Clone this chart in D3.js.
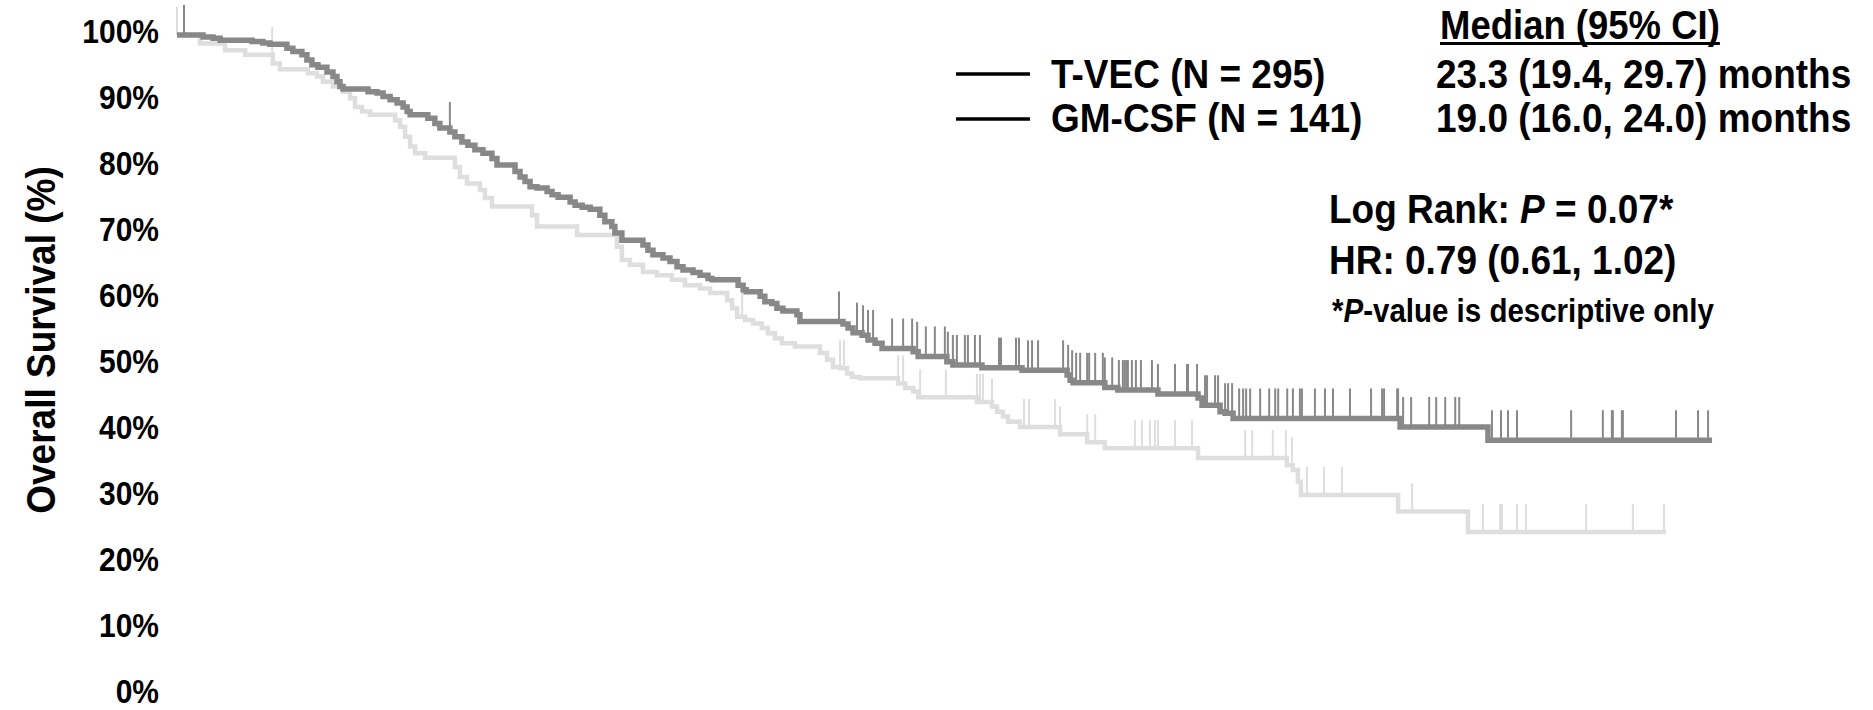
<!DOCTYPE html>
<html>
<head>
<meta charset="utf-8">
<script src="https://cdn.jsdelivr.net/npm/d3@7/dist/d3.min.js"></script>
<style>
  html, body { margin: 0; padding: 0; background: #fff; }
  svg { display: block; }
  text { font-family: "Liberation Sans", Arial, Helvetica, sans-serif; font-weight: bold; fill: #000; }
</style>
</head>
<body>
<svg id="chart" width="1873" height="710"></svg>
<script>
// ---------- DATA ----------
// Kaplan-Meier steps: [month, survival %] (survival drops to value at that month)
const tvecSteps = [[0,100],[0.78,99.7],[1.08,99.5],[1.29,99.2],[2.25,99.0],[2.57,98.8],[2.78,98.6],[3.29,98.0],[3.47,97.5],[3.74,97.0],[3.89,96.2],[4.04,95.5],[4.22,95.1],[4.49,94.4],[4.67,93.7],[4.79,92.9],[4.88,92.2],[4.97,91.8],[5.72,91.4],[5.99,91.2],[6.17,90.7],[6.38,90.2],[6.59,89.7],[6.77,89.1],[6.89,88.4],[6.98,87.9],[7.51,87.4],[7.72,86.6],[7.87,85.9],[8.17,85.3],[8.32,84.6],[8.53,83.8],[8.71,83.3],[8.92,82.6],[9.16,82.1],[9.43,81.3],[9.58,80.3],[10.12,79.3],[10.27,78.5],[10.42,77.8],[10.57,77.0],[10.78,76.8],[11.08,76.3],[11.23,75.8],[11.41,75.4],[11.77,74.7],[11.92,74.2],[12.13,73.9],[12.37,73.6],[12.66,72.7],[12.81,71.7],[13.02,71.0],[13.11,70.0],[13.32,68.9],[13.95,68.2],[14.10,67.4],[14.25,66.7],[14.55,66.2],[14.76,65.7],[14.97,64.9],[15.15,64.4],[15.45,64.0],[15.66,63.6],[15.90,63.1],[16.02,62.9],[16.80,62.1],[16.95,61.4],[17.04,61.1],[17.46,60.4],[17.60,59.6],[17.81,59.3],[17.96,58.6],[18.14,58.2],[18.56,57.6],[18.65,56.6],[19.94,56.2],[20.09,55.6],[20.24,54.9],[20.51,54.5],[20.69,53.8],[20.90,53.3],[21.11,52.5],[22.04,52.0],[22.19,51.3],[23.05,50.5],[23.23,50.0],[24.10,49.6],[25.30,49.2],[26.65,48.5],[26.74,47.7],[26.83,47.3],[27.78,46.6],[28.17,46.2],[29.37,45.6],[30.57,45.0],[30.69,43.9],[31.23,42.9],[31.38,42.7],[31.62,41.9],[36.62,40.6],[39.25,38.6]];
const tvecEnd = 45.96;
const tvecCensored = [0.21,8.17,19.82,20.36,20.54,20.69,20.84,21.41,21.74,22.01,22.16,22.42,22.69,22.99,23.08,23.23,23.35,23.59,23.68,23.89,24.04,24.61,24.67,25.12,25.21,25.48,25.60,25.78,26.53,26.68,26.80,26.92,27.04,27.25,27.31,27.49,27.72,27.78,28.00,28.20,28.32,28.38,28.44,28.47,28.59,28.71,28.86,29.19,29.37,29.88,30.24,30.27,30.54,30.78,30.84,31.08,31.17,31.38,31.47,31.59,31.80,31.92,32.01,32.13,32.43,32.70,32.88,32.97,33.24,33.41,33.62,33.68,34.07,34.37,34.61,35.12,35.75,36.08,36.14,36.53,36.56,36.71,36.95,37.49,37.70,37.97,38.27,38.39,39.37,39.64,39.85,40.12,41.74,42.69,42.96,42.99,43.26,43.29,44.88,45.54,45.84];

const gmSteps = [[0,100],[0.69,98.7],[1.44,97.7],[2.04,97.0],[2.87,95.7],[3.08,94.8],[3.92,94.2],[4.19,93.7],[4.37,92.9],[4.67,92.2],[4.97,91.4],[5.18,90.4],[5.33,89.1],[5.54,88.4],[5.78,87.9],[6.53,87.1],[6.68,86.1],[6.83,84.6],[6.98,83.1],[7.13,82.1],[7.43,81.4],[8.32,80.0],[8.47,78.5],[8.68,77.5],[9.07,76.5],[9.22,75.3],[9.43,74.0],[10.63,72.7],[10.78,71.0],[11.98,69.7],[13.17,67.9],[13.32,65.9],[13.56,65.2],[13.95,64.1],[14.37,63.6],[14.82,62.9],[15.21,62.1],[15.66,61.6],[15.96,60.9],[16.47,59.8],[16.62,58.6],[16.77,57.3],[17.01,56.8],[17.25,56.3],[17.51,55.6],[17.69,54.8],[17.90,54.0],[18.11,53.3],[18.50,52.8],[19.25,51.8],[19.46,50.8],[19.64,49.7],[19.85,49.5],[20.06,48.7],[20.21,48.2],[20.45,48.0],[21.59,47.2],[21.80,46.5],[22.04,46.0],[22.19,45.1],[23.95,44.4],[24.40,43.7],[24.55,42.9],[24.73,42.2],[24.88,41.4],[25.24,40.6],[26.44,39.5],[27.25,38.3],[27.78,37.4],[30.57,35.9],[33.23,34.8],[33.41,34.1],[33.56,32.3],[33.65,30.3],[36.56,27.8],[38.65,24.7]];
const gmEnd = 44.58;
const gmCensored = [0,2.85,16.92,19.85,19.97,21.59,21.74,22.25,23.02,23.95,24.04,24.13,24.40,25.36,25.51,26.29,26.44,27.25,27.49,28.68,28.89,29.13,29.28,29.37,29.88,30.39,31.98,32.19,32.81,33.20,33.38,33.83,34.34,34.88,36.98,39.10,39.61,39.67,40.12,40.39,42.19,43.59,44.52];

const yTicks = [0,10,20,30,40,50,60,70,80,90,100];
const yTitle = "Overall Survival (%)";
const legendNames = ["T-VEC (N = 295)", "GM-CSF (N = 141)"];
const medianHeader = "Median (95% CI)";
const medianTexts = ["23.3 (19.4, 29.7) months", "19.0 (16.0, 24.0) months"];

// ---------- CHART ----------
const svg = d3.select("#chart");
const x = d3.scaleLinear().domain([0, 46]).range([177, 177 + 46 * 33.4]);
const y = d3.scaleLinear().domain([0, 100]).range([695, 35]);
const STRETCH = 1.12; // glyphs in the reference are taller than regular Arial Bold

// y axis (labels only)
const yAxis = d3.axisLeft(y).tickValues(yTicks).tickFormat(d => d + "%").tickSize(0).tickPadding(18);
const gy = svg.append("g").attr("transform", "translate(177,-3.5)").call(yAxis);
gy.select(".domain").remove();
gy.selectAll("text")
  .style("font-family", '"Liberation Sans", Arial, sans-serif')
  .style("font-weight", "bold").style("font-size", "30px").attr("fill", "#000")
  .attr("transform", `scale(1,${STRETCH})`);

svg.append("text")
  .attr("transform", `translate(41,340) rotate(-90) scale(1,1.08)`)
  .attr("text-anchor", "middle").attr("dominant-baseline", "central")
  .style("font-size", "37px").text(yTitle);

function survAt(steps, t) {
  let s = steps[0][1];
  for (const [ti, si] of steps) { if (ti <= t) s = si; else break; }
  return s;
}

const line = d3.line().x(d => x(d[0])).y(d => y(d[1])).curve(d3.curveStepAfter);

function drawSeries(steps, end, censored, color, width, tickLen) {
  const pts = steps.concat([[end, steps[steps.length - 1][1]]]);
  const g = svg.append("g");
  g.selectAll("line.c").data(censored).enter().append("line")
    .attr("x1", d => x(d)).attr("x2", d => x(d))
    .attr("y1", d => y(survAt(steps, d))).attr("y2", d => y(survAt(steps, d)) - tickLen)
    .attr("stroke", color).attr("stroke-width", 2);
  g.append("path").datum(pts).attr("d", line)
    .attr("fill", "none").attr("stroke", color).attr("stroke-width", width);
}

drawSeries(gmSteps, gmEnd, gmCensored, "#dedede", 4.5, 28);
drawSeries(tvecSteps, tvecEnd, tvecCensored, "#888888", 5.5, 30);

// text helper: baseline-anchored, vertically stretched
function label(xp, yp, size) {
  return svg.append("text")
    .attr("transform", `translate(${xp},${yp}) scale(1,${STRETCH})`)
    .style("font-size", size + "px");
}

// legend & stats
const legendRows = [87.5, 131.5];
const legendLines = [74, 119];
legendNames.forEach((name, i) => {
  svg.append("line").attr("x1", 956).attr("x2", 1030)
    .attr("y1", legendLines[i]).attr("y2", legendLines[i])
    .attr("stroke", "#000").attr("stroke-width", 3.5);
  label(1051, legendRows[i], 37).text(name);
  label(1436, legendRows[i], 37).text(medianTexts[i]);
});

const mh = label(1440, 38.5, 36.5).text(medianHeader);
const mw = mh.node().getComputedTextLength();
svg.append("line").attr("x1", 1440).attr("x2", 1440 + mw).attr("y1", 43.5).attr("y2", 43.5)
  .attr("stroke", "#000").attr("stroke-width", 3);

const lr = label(1329, 223, 37);
lr.append("tspan").text("Log Rank: ");
lr.append("tspan").style("font-style", "italic").text("P");
lr.append("tspan").text(" = 0.07*");

label(1329, 274, 37).text("HR: 0.79 (0.61, 1.02)");

const fn = label(1332, 322, 29.5);
fn.append("tspan").text("*");
fn.append("tspan").style("font-style", "italic").text("P");
fn.append("tspan").text("-value is descriptive only");
</script>
</body>
</html>
